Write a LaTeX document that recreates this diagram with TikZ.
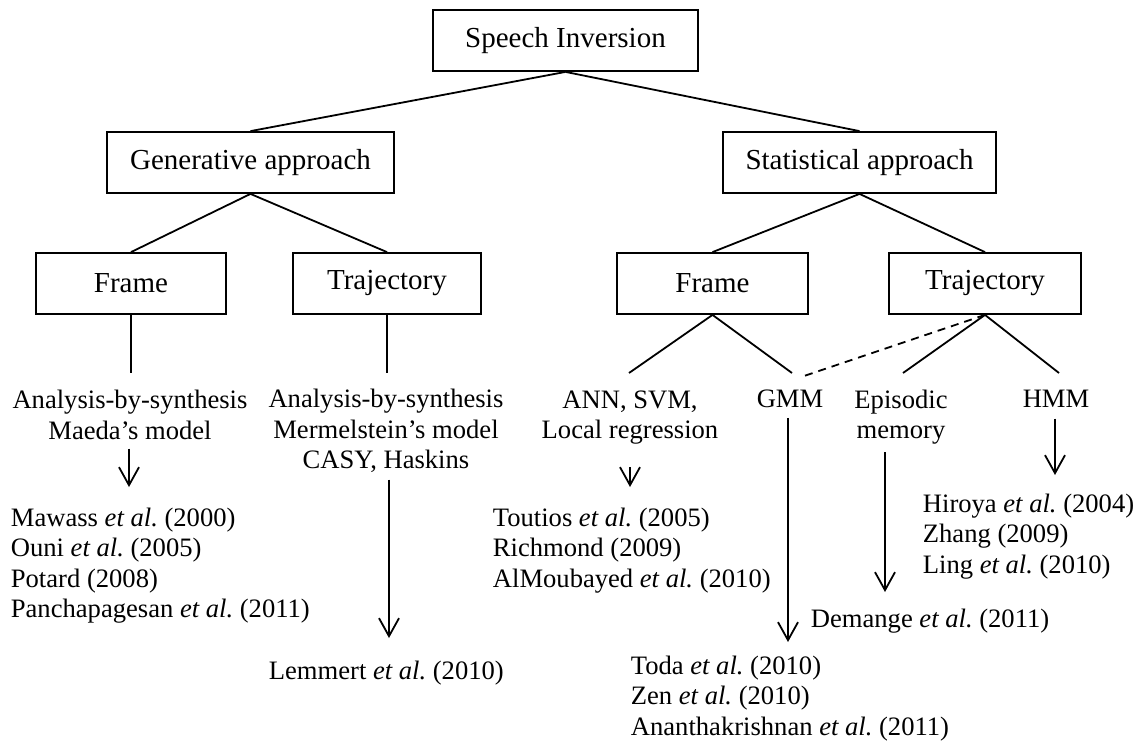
\documentclass[tikz,border=0pt]{standalone}
\usepackage{fontspec}
\setmainfont{Liberation Serif}
\usetikzlibrary{arrows.meta,positioning}
\frenchspacing

\tikzset{
  box/.style={draw, minimum height=61pt, inner sep=0pt, font=\fontsize{29}{33}\selectfont},
  leaf/.style={align=center, inner sep=0pt},
  refs/.style={align=left, anchor=north west, inner sep=0pt},
  arr/.style={-{Straight Barb[length=18pt,width=20pt,line width=1.8pt]}},
}

\begin{document}
\begin{tikzpicture}[x=1pt, y=-1pt, line width=1.8pt,
    every node/.style={font=\fontsize{26.6}{30.5}\selectfont}]
    \useasboundingbox (0,0) rectangle (1140,740);

    % top levels
    \node[box, minimum width=265pt] (si) at (565.5,40.5) {Speech Inversion};
    \node[box, minimum width=287pt] (gen) at (250.5,162.5) {Generative approach};
    \node[box, minimum width=273pt] (stat) at (859.5,162.5) {Statistical approach};

    \node[box, minimum width=190pt] (gframe) at (131,283.5) {Frame};
    \node[box, minimum width=188pt] (gtraj) at (387,283.5) {Trajectory};
    \node[box, minimum width=191pt] (sframe) at (712.5,283.5) {Frame};
    \node[box, minimum width=192pt] (straj) at (985,283.5) {Trajectory};

    \draw (si.south) -- (gen.north);
    \draw (si.south) -- (stat.north);
    \draw (gen.south) -- (gframe.north);
    \draw (gen.south) -- (gtraj.north);
    \draw (stat.south) -- (sframe.north);
    \draw (stat.south) -- (straj.north);

    % methods
    \node[leaf] (gmaeda) at (130,415) {Analysis-by-synthesis\\Maeda's model};
    \node[leaf] (gcasy) at (386,431) {Analysis-by-synthesis\\Mermelstein's model\\CASY, Haskins};
    \node[leaf] (ann) at (630,417.5) {ANN, SVM,\\Local regression};
    \node[leaf] (gmm) at (790,399) {GMM};
    \node[leaf] (epi) at (901,417) {Episodic\\memory};
    \node[leaf] (hmm) at (1056,399) {HMM};

    \coordinate (gframeend) at (131,373);
    \coordinate (gtrajend) at (387,373);
    \coordinate (annend) at (629,373);
    \coordinate (gmmend) at (792,373);
    \coordinate (epiend) at (903,373);
    \coordinate (hmmend) at (1059,373);
    \coordinate (dashend) at (804,376);

    \draw (gframe.south) -- (gframeend);
    \draw (gtraj.south) -- (gtrajend);
    \draw (sframe.south) -- (annend);
    \draw (sframe.south) -- (gmmend);
    \draw (straj.south) -- (epiend);
    \draw (straj.south) -- (hmmend);
    \draw[dash pattern=on 8pt off 6pt] (straj.south) -- (dashend);

    % references
    \node[refs] (gref) at (10,507) {Mawass \emph{et al.} (2000)\\Ouni \emph{et al.} (2005)\\Potard (2008)\\Panchapagesan \emph{et al.} (2011)};
    \node[refs] (lemmert) at (268,660) {Lemmert \emph{et al.} (2010)};
    \node[refs] (annref) at (492,507) {Toutios \emph{et al.} (2005)\\Richmond (2009)\\AlMoubayed \emph{et al.} (2010)};
    \node[refs] (gmmref) at (630,655) {Toda \emph{et al.} (2010)\\Zen \emph{et al.} (2010)\\Ananthakrishnan \emph{et al.} (2011)};
    \node[refs] (demange) at (810,608) {Demange \emph{et al.} (2011)};
    \node[refs] (hmmref) at (922,493) {Hiroya \emph{et al.} (2004)\\Zhang (2009)\\Ling \emph{et al.} (2010)};

    \coordinate (gtip) at (129,487);
    \coordinate (casytip) at (389,638);
    \coordinate (anntip) at (630,487);
    \coordinate (gmmtip) at (788,642);
    \coordinate (epitip) at (885,592);
    \coordinate (hmmtip) at (1055,475);

    \draw[arr, shorten <=8pt] (gmaeda.south -| gtip) -- (gtip);
    \draw[arr, shorten <=6pt] (gcasy.south -| casytip) -- (casytip);
    \draw[arr, shorten <=22pt] (ann.south) -- (anntip);
    \draw[arr, shorten <=9pt] (gmm.south -| gmmtip) -- (gmmtip);
    \draw[arr, shorten <=7pt] (epi.south -| epitip) -- (epitip);
    \draw[arr, shorten <=10pt] (hmm.south -| hmmtip) -- (hmmtip);
\end{tikzpicture}
\end{document}
